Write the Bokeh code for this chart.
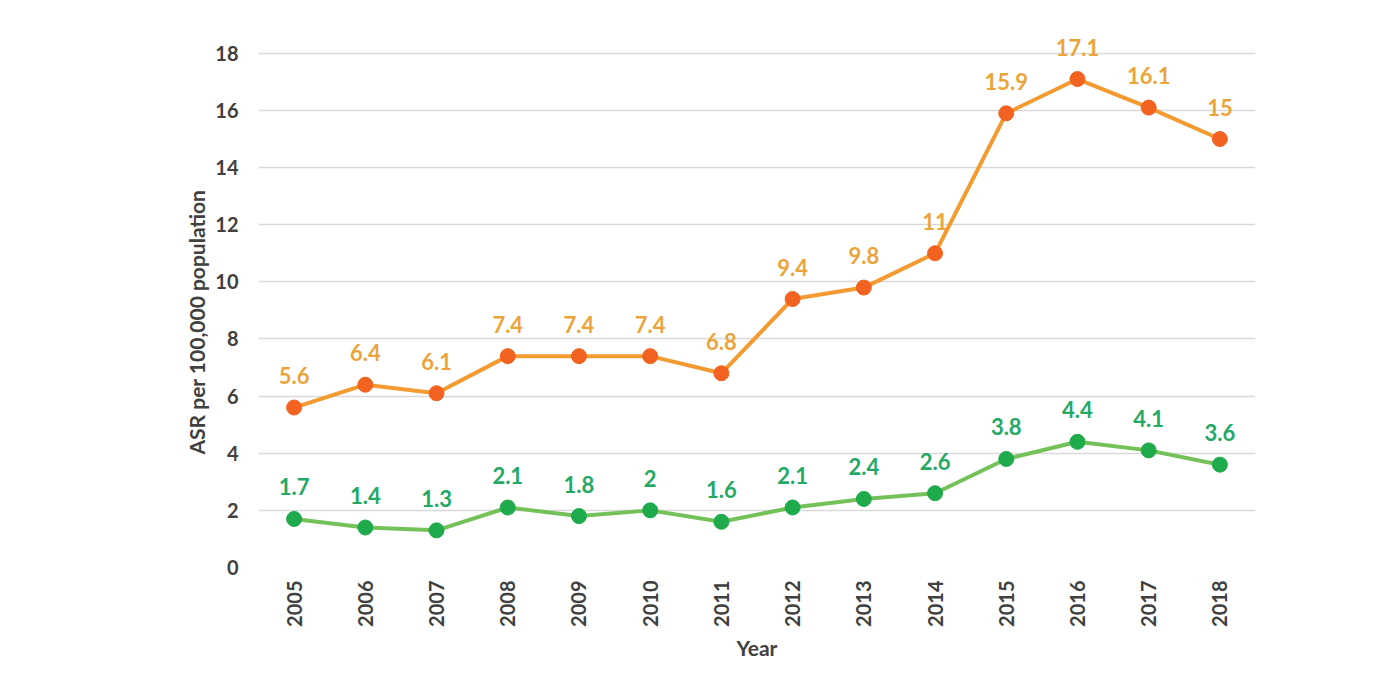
from bokeh.plotting import figure
from bokeh.models import (ColumnDataSource, Range1d, FixedTicker, LabelSet, Legend, LegendItem, Title)
from bokeh.core.properties import value
from bokeh.embed import file_html
from bokeh.resources import INLINE
import math

years = [2005, 2006, 2007, 2008, 2009, 2010, 2011, 2012, 2013, 2014, 2015, 2016, 2017, 2018]
male = [1.7, 1.4, 1.3, 2.1, 1.8, 2, 1.6, 2.1, 2.4, 2.6, 3.8, 4.4, 4.1, 3.6]
female = [5.6, 6.4, 6.1, 7.4, 7.4, 7.4, 6.8, 9.4, 9.8, 11, 15.9, 17.1, 16.1, 15]
y_ticks = [0, 2, 4, 6, 8, 10, 12, 14, 16, 18]

FONT = "Lato"
TXT = "#404040"
src_m = ColumnDataSource(dict(x=years, y=male, t=[str(v) for v in male]))
src_f = ColumnDataSource(dict(x=years, y=female, t=[str(v) for v in female]))

p = figure(frame_width=997, frame_height=537,
           min_border_left=258, min_border_right=125, min_border_top=30, min_border_bottom=121,
           x_range=Range1d(2004.5, 2018.5), y_range=Range1d(0, 18.8),
           output_backend="svg", toolbar_location=None)
p.outline_line_color = None
p.background_fill_color = "white"
p.border_fill_color = "white"

p.xgrid.grid_line_color = None
p.ygrid.grid_line_color = "#d9d9d9"
p.ygrid.grid_line_width = 1.5
p.yaxis.ticker = FixedTicker(ticks=y_ticks)
p.xaxis.ticker = FixedTicker(ticks=years)
p.xaxis.major_label_overrides = {y: str(y) for y in years}

for ax in (p.xaxis[0], p.yaxis[0]):
    ax.axis_line_color = None
    ax.major_tick_line_color = None
    ax.minor_tick_line_color = None
    ax.major_tick_out = 0
    ax.major_tick_in = 0
    ax.minor_tick_out = 0
    ax.major_label_text_font = FONT
    ax.major_label_text_font_style = "bold"
    ax.major_label_text_font_size = "20px"
    ax.major_label_text_color = TXT

p.xaxis.major_label_orientation = math.pi / 2
p.xaxis.major_label_standoff = 13
p.xaxis.axis_label = "Year"
p.xaxis.axis_label_standoff = 5
p.xaxis.axis_label_text_font = FONT
p.xaxis.axis_label_text_font_style = "bold"
p.xaxis.axis_label_text_font_size = "21px"
p.xaxis.axis_label_text_color = TXT
p.yaxis.major_label_standoff = 20

p.add_layout(Title(text="ASR per 100,000 population", align="left", offset=113,
                   text_font=FONT, text_font_style="bold", text_font_size="21px",
                   text_color=TXT, standoff=8), "left")

lm = p.line("x", "y", source=src_m, line_color="#74c15a", line_width=4)
sm = p.scatter("x", "y", source=src_m, size=15, fill_color="#1faa4c", line_color="#1faa4c")
lf = p.line("x", "y", source=src_f, line_color="#f39a30", line_width=4)
sf = p.scatter("x", "y", source=src_f, size=15, fill_color="#f26322", line_color="#f26322")

for src, col in ((src_m, "#24a865"), (src_f, "#eba43a")):
    p.add_layout(LabelSet(x="x", y="y", text="t", source=src, y_offset=32,
                          text_align="center", text_baseline="middle",
                          text_font=value(FONT), text_font_style="bold", text_font_size="22px",
                          text_color=col))

legend = Legend(items=[LegendItem(label="Male", renderers=[lm, sm]),
                       LegendItem(label="Female", renderers=[lf, sf])],
                orientation="horizontal", location="center",
                label_text_font=FONT, label_text_font_style="bold", label_text_font_size="21px",
                label_text_color=TXT, glyph_width=55, glyph_height=22,
                label_standoff=3, spacing=35, padding=1, margin=0,
                border_line_color=None, background_fill_alpha=0)
p.add_layout(legend, "below")

open("out.html", "w").write(file_html(p, INLINE))
